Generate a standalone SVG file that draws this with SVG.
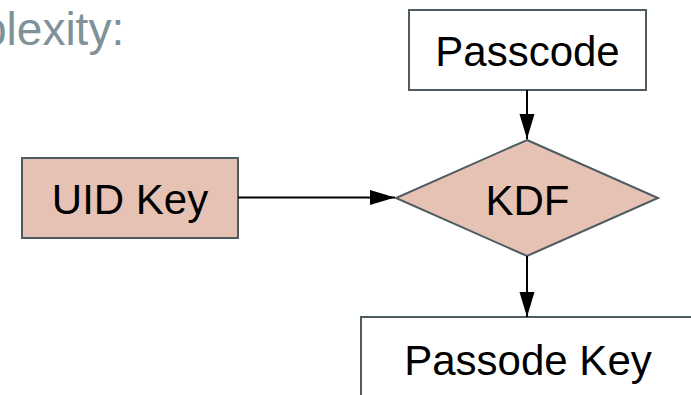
<svg xmlns="http://www.w3.org/2000/svg" width="691" height="395" viewBox="0 0 691 395">
  <style>
    .box { fill: #ffffff; stroke: #4e5b61; stroke-width: 2; }
    .hl { fill: #e6c2b4; stroke: #4e5b61; stroke-width: 2; }
    .lbl { font-family: "Liberation Sans", Arial, sans-serif; font-size: 42px; fill: #000000; text-anchor: middle; }
    .edge { stroke: #000000; stroke-width: 2; fill: none; }
  </style>
  <defs>
    <marker id="arr" markerUnits="userSpaceOnUse" markerWidth="26" markerHeight="16" refX="25" refY="7.5" orient="auto">
      <path d="M0,0 L25,7.5 L0,15 Z" fill="#000000"/>
    </marker>
  </defs>
  <rect width="691" height="395" fill="#ffffff"/>
  <text x="-19" y="45" font-family="'Liberation Sans', Arial, sans-serif" font-size="46" fill="#7f9199">plexity:</text>
  <g id="passcode">
    <rect class="box" x="409" y="10" width="237" height="80"/>
    <text class="lbl" x="527.5" y="66">Passcode</text>
  </g>
  <g id="uidkey">
    <rect class="hl" x="22" y="158" width="216" height="80"/>
    <text class="lbl" x="130" y="214">UID Key</text>
  </g>
  <g id="kdf">
    <polygon class="hl" points="527,140 658,198 527,256 396,198"/>
    <text class="lbl" x="527.5" y="215">KDF</text>
  </g>
  <g id="passodekey">
    <rect class="box" x="361" y="317" width="334" height="90"/>
    <text class="lbl" x="528" y="375">Passode Key</text>
  </g>
  <g id="connectors">
    <line class="edge" x1="527" y1="90" x2="527" y2="139" marker-end="url(#arr)"/>
    <line class="edge" x1="238" y1="197.5" x2="395" y2="197.5" marker-end="url(#arr)"/>
    <line class="edge" x1="527" y1="256" x2="527" y2="317" marker-end="url(#arr)"/>
  </g>
</svg>
